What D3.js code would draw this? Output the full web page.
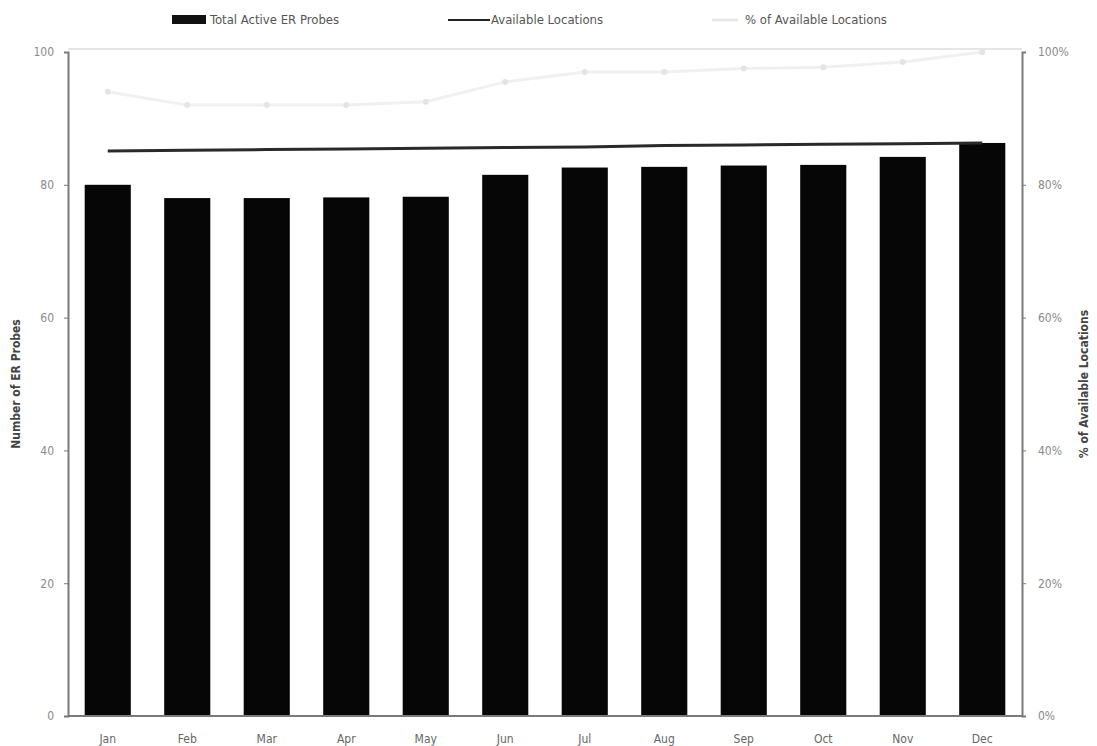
<!DOCTYPE html>
<html>
<head>
<meta charset="utf-8">
<script src="https://cdn.jsdelivr.net/npm/d3@7"></script>
<style>
  html, body { margin: 0; padding: 0; background: #fff; }
  svg { display: block; }
  text { font-family: "Liberation Sans Narrow", "DejaVu Sans Condensed", "Liberation Sans", sans-serif; }
</style>
</head>
<body>
<svg id="chart" width="1097" height="746"></svg>
<script>
const months = ["Jan","Feb","Mar","Apr","May","Jun","Jul","Aug","Sep","Oct","Nov","Dec"];
const activeProbes = [80, 78, 78, 78.1, 78.2, 81.5, 82.6, 82.7, 82.9, 83.0, 84.2, 86.3];
const availableLocations = [85.1, 85.2, 85.3, 85.4, 85.5, 85.6, 85.7, 85.9, 86.0, 86.1, 86.2, 86.3];
const pctAvailable = [0.94, 0.92, 0.92, 0.92, 0.925, 0.955, 0.97, 0.97, 0.975, 0.977, 0.985, 1.0];
const leftTicks = [0, 20, 40, 60, 80, 100];
const rightTicks = [0, 0.2, 0.4, 0.6, 0.8, 1.0];
const legendLabels = ["Total Active ER Probes", "Available Locations", "% of Available Locations"];

const svg = d3.select("#chart");
const L = 68, R = 1022, T = 52, B = 716;

const x = d3.scaleBand().domain(months).range([L, R]).paddingInner(0.42).paddingOuter(0.21);
const y = d3.scaleLinear().domain([0, 100]).range([B, T]);
const yp = d3.scaleLinear().domain([0, 1]).range([B, T]);

// plot top border (faint)
svg.append("line").attr("x1", L).attr("x2", R).attr("y1", T - 3).attr("y2", T - 3)
  .attr("stroke", "#e6e6e6").attr("stroke-width", 2);

// bars
svg.append("g").selectAll("rect").data(months).join("rect")
  .attr("x", d => x(d))
  .attr("width", x.bandwidth())
  .attr("y", (d, i) => y(activeProbes[i]))
  .attr("height", (d, i) => B - y(activeProbes[i]))
  .attr("fill", "#060606");

// available locations line
const cx = d => x(d) + x.bandwidth() / 2;
svg.append("path")
  .datum(months)
  .attr("fill", "none").attr("stroke", "#2a2a2a").attr("stroke-width", 3)
  .attr("d", d3.line().x(d => cx(d)).y((d, i) => y(availableLocations[i])));

// % line
svg.append("path")
  .datum(months)
  .attr("fill", "none").attr("stroke", "#f0f0f0").attr("stroke-width", 3)
  .attr("d", d3.line().x(d => cx(d)).y((d, i) => yp(pctAvailable[i])));
svg.append("g").selectAll("circle").data(months).join("circle")
  .attr("cx", d => cx(d)).attr("cy", (d, i) => yp(pctAvailable[i])).attr("r", 3)
  .attr("fill", "#e4e4e4");

// axes
const axisColor = "#7a7a7a";
const gl = svg.append("g").attr("transform", `translate(${L},0)`)
  .call(d3.axisLeft(y).tickValues(leftTicks).tickSize(4).tickPadding(10));
const gr = svg.append("g").attr("transform", `translate(${R},0)`)
  .call(d3.axisRight(yp).tickValues(rightTicks).tickSize(4).tickPadding(12).tickFormat(d3.format(".0%")));
const gb = svg.append("g").attr("transform", `translate(0,${B})`)
  .call(d3.axisBottom(x).tickSize(0).tickPadding(18));
[gl, gr, gb].forEach(g => {
  g.select(".domain").attr("stroke", axisColor).attr("stroke-width", 2);
  g.selectAll(".tick line").attr("stroke", axisColor);
  g.selectAll("text").attr("fill", "#8a8a8a").style("font-size", "12px")
    .style("font-family", "'Liberation Sans Narrow', 'DejaVu Sans Condensed', sans-serif");
});
gb.selectAll("text").attr("fill", "#666");
gb.select(".domain").attr("d", `M${L},0H${R}`);

// axis titles
svg.append("text").attr("transform", `translate(20,${(T + B) / 2}) rotate(-90)`)
  .attr("text-anchor", "middle").attr("fill", "#444").style("font-size", "12px").style("font-weight", "bold")
  .text("Number of ER Probes");
svg.append("text").attr("transform", `translate(1088,${(T + B) / 2}) rotate(-90)`)
  .attr("text-anchor", "middle").attr("fill", "#444").style("font-size", "12px").style("font-weight", "bold")
  .text("% of Available Locations");

// legend
const lg = svg.append("g").style("font-size", "13px");
lg.append("rect").attr("x", 172).attr("y", 15).attr("width", 34).attr("height", 9).attr("fill", "#111");
lg.append("text").attr("x", 210).attr("y", 24).attr("fill", "#555").text(legendLabels[0]);
lg.append("line").attr("x1", 448).attr("x2", 490).attr("y1", 20).attr("y2", 20).attr("stroke", "#222").attr("stroke-width", 2);
lg.append("text").attr("x", 491).attr("y", 24).attr("fill", "#555").text(legendLabels[1]);
lg.append("line").attr("x1", 712).attr("x2", 738).attr("y1", 20).attr("y2", 20).attr("stroke", "#e8e8e8").attr("stroke-width", 3);
lg.append("text").attr("x", 745).attr("y", 24).attr("fill", "#555").text(legendLabels[2]);
</script>
</body>
</html>
